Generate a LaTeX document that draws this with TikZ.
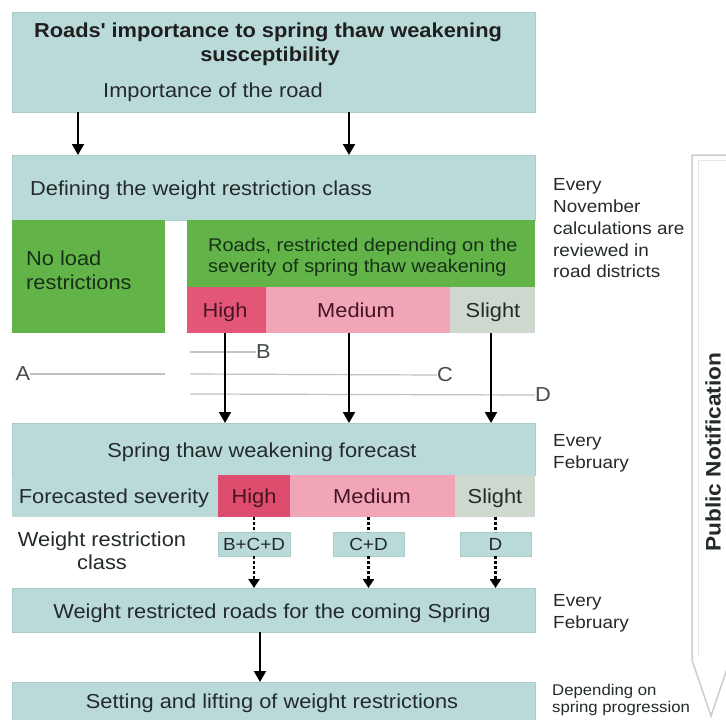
\documentclass[tikz,border=0pt]{standalone}
\usepackage{fontspec}
\setmainfont{Liberation Sans}[FakeStretch=1.08]
\usetikzlibrary{arrows.meta,fit}
\definecolor{teal1}{RGB}{186,218,218}
\definecolor{tealb}{RGB}{168,204,204}
\definecolor{green1}{RGB}{98,180,72}
\definecolor{high1}{RGB}{228,86,120}
\definecolor{high2}{RGB}{222,76,110}
\definecolor{med1}{RGB}{241,165,183}
\definecolor{slight1}{RGB}{206,216,206}
\definecolor{txt}{RGB}{36,42,42}
\definecolor{gtxt}{RGB}{24,48,24}
\definecolor{rtxt}{RGB}{70,20,34}
\definecolor{gline}{RGB}{192,192,192}
\definecolor{pline}{RGB}{205,205,205}
\newcommand\fmain{\fontsize{20.2}{23}\selectfont}
\newcommand\fsmall{\fontsize{17.5}{21}\selectfont}
\newcommand\ftiny{\fontsize{15.5}{17}\selectfont}
\begin{document}
\begin{tikzpicture}[x=1pt,y=-1pt,
  box/.style={inner sep=0pt, outer sep=0pt},
  tealbox/.style={box, fill=teal1, draw=tealb, line width=0.6pt},
  greenbox/.style={box, fill=green1},
  highbox/.style={box, fill=high1},
  medbox/.style={box, fill=med1},
  slightbox/.style={box, fill=slight1},
  lbl/.style={inner sep=0pt, text=txt, font=\fmain, anchor=base},
  lblw/.style={lbl, anchor=base west},
  side/.style={inner sep=0pt, text=txt, font=\fsmall, anchor=base west},
  arr/.style={line width=2pt, -{Triangle[length=11pt,width=12pt]}},
  darr/.style={line width=2.4pt, dash pattern=on 3pt off 2pt, -{Triangle[length=9pt,width=11pt]}},
  gl/.style={draw=gline, line width=1.2pt},
  letter/.style={inner sep=0pt, text=txt!85, font=\fmain}
]
\useasboundingbox (0,0) rectangle (726,720);
\clip (0,0) rectangle (726,720);
\fill[white] (0,0) rectangle (726,720);

% ---- boxes
\node[tealbox, fit={(12,12) (535,112)}] (title) {};
\node[tealbox, fit={(12,155) (535,220)}] (define) {};
\node[greenbox, fit={(12,220) (165,333)}] (noload) {};
\node[greenbox, fit={(187,220) (535,287)}] (restr) {};
\node[highbox, fit={(187,287) (266,333)}] (high1) {};
\node[medbox, fit={(266,287) (450,333)}] (med1) {};
\node[slightbox, fit={(450,287) (535,333)}] (sl1) {};

\node[tealbox, fit={(12,423) (535,475)}] (forecast) {};
\node[box, fill=teal1, fit={(12,475) (218,517)}] (fsev) {};
\node[box, fill=high2, fit={(218,475) (290,517)}] (high2) {};
\node[medbox, fit={(290,475) (455,517)}] (med2) {};
\node[slightbox, fit={(455,475) (535,517)}] (sl2) {};

\node[tealbox, fit={(218,532) (290,556)}] (cbcd) {};
\node[tealbox, fit={(333,532) (404,556)}] (ccd) {};
\node[tealbox, fit={(460,532) (531,556)}] (cd) {};

\node[tealbox, fit={(12,588) (535,632)}] (wroads) {};
\node[tealbox, fit={(12,682) (535,724)}] (setting) {};

% ---- texts
\node[lbl, font=\bfseries\fmain, text=black!88] (t1) at (268,37) {Roads\textquotesingle{} importance to spring thaw weakening};
\node[lbl, font=\bfseries\fmain, text=black!88] (t2) at (270,61) {susceptibility};
\node[lblw] (imp) at (103,97) {Importance of the road};
\node[lblw] (deftxt) at (30,195) {Defining the weight restriction class};
\node[lblw, text=gtxt] (nl1) at (26,265) {No load};
\node[lblw, text=gtxt] (nl2) at (26,289) {restrictions};
\node[lblw, text=gtxt, font=\fontsize{18.4}{21}\selectfont] (r1) at (208,251) {Roads, restricted depending on the};
\node[lblw, text=gtxt, font=\fontsize{18.4}{21}\selectfont] (r2) at (208,272) {severity of spring thaw weakening};
\node[lbl, text=rtxt] (h1t) at (225,317) {High};
\node[lbl, text=rtxt] (m1t) at (356,317) {Medium};
\node[lbl] (s1t) at (493,317) {Slight};

\node[lbl] (fct) at (262,457) {Spring thaw weakening forecast};
\node[lbl] (fst) at (114,503) {Forecasted severity};
\node[lbl, text=rtxt] (h2t) at (254,503) {High};
\node[lbl, text=rtxt] (m2t) at (372,503) {Medium};
\node[lbl] (s2t) at (495,503) {Slight};

\node[inner sep=0pt, text=txt, font=\fsmall] at (cbcd) {B+C+D};
\node[inner sep=0pt, text=txt, font=\fsmall] at (ccd) {C+D};
\node[inner sep=0pt, text=txt, font=\fsmall] at (cd) {D};
\node[lbl] (wrc1) at (102,546) {Weight restriction};
\node[lbl] (wrc2) at (102,569) {class};

\node[lbl] (wrt) at (272,618) {Weight restricted roads for the coming Spring};
\node[lbl] (sett) at (272,708) {Setting and lifting of weight restrictions};

% ---- side notes
\node[side] (n1) at (553,190) {Every};
\node[side] (n2) at (553,212) {November};
\node[side] (n3) at (553,234) {calculations are};
\node[side] (n4) at (553,256) {reviewed in};
\node[side] (n5) at (553,277) {road districts};
\node[side] (f1) at (553,446) {Every};
\node[side] (f2) at (553,468) {February};
\node[side] (g1) at (553,606) {Every};
\node[side] (g2) at (553,628) {February};
\node[side, font=\ftiny] (d1) at (552,695) {Depending on};
\node[side, font=\ftiny] (d2) at (552,712) {spring progression};

% ---- public notification arrow
\draw[pline, line width=1.5pt] (730,155) -- (692,155) -- (692,660) -- (711,716) -- (730,660);
\draw[pline!50, line width=1pt] (730,160) -- (698,160) -- (698,655);
\node[rotate=90, inner sep=0pt, text=txt, font=\bfseries\fontsize{21}{23}\selectfont] (pub) at (713,452) {Public Notification};

% ---- A B C D lines
\node[letter] (A) at (23,374) {A};
\node[letter, anchor=west] (B) at (256,352) {B};
\node[letter] (C) at (445,375) {C};
\node[letter] (D) at (543,395) {D};
\coordinate (bl) at (190,352);
\coordinate (al) at (165,374);
\coordinate (cl) at (190,374);
\coordinate (dl) at (190,394);
\draw[gl] (bl) -- (B.west);
\draw[gl] (A.east) -- (al);
\draw[gl] (cl) -- (C.west);
\draw[gl] (dl) -- (D.west);

% ---- arrows
\draw[arr] (title.south -| 78,0) -- (define.north -| 78,0);
\draw[arr] (title.south -| 349,0) -- (define.north -| 349,0);
\draw[arr] (high1.south -| 225,0) -- (forecast.north -| 225,0);
\draw[arr] (med1.south -| 349,0) -- (forecast.north -| 349,0);
\draw[arr] (sl1.south -| 491,0) -- (forecast.north -| 491,0);

\draw[darr, -] (high2.south -| cbcd.north) -- (cbcd.north);
\draw[darr, -] (med2.south -| ccd.north) -- (ccd.north);
\draw[darr, -] (sl2.south -| cd.north) -- (cd.north);
\draw[darr] (cbcd.south) -- (wroads.north -| cbcd.south);
\draw[darr] (ccd.south) -- (wroads.north -| ccd.south);
\draw[darr] (cd.south) -- (wroads.north -| cd.south);

\draw[arr] (wroads.south -| 260,0) -- (setting.north -| 260,0);
\end{tikzpicture}
\end{document}
